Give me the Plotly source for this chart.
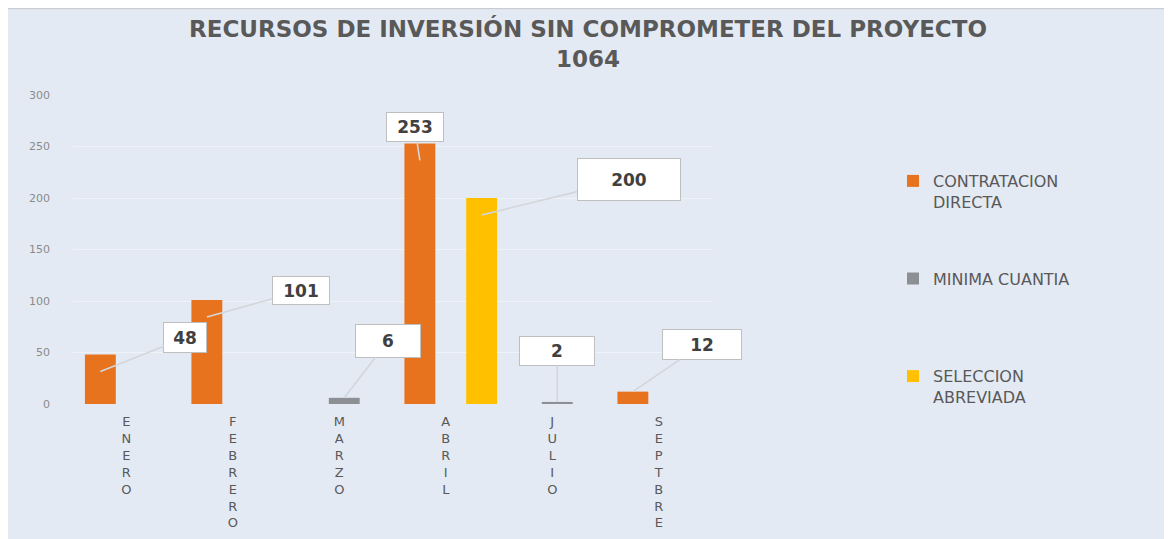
import plotly.graph_objects as go

# ---- data ----
months = ["ENERO", "FEBRERO", "MARZO", "ABRIL", "JULIO", "SEPTBRE"]
contratacion_directa = [48, 101, None, 253, None, 12]
minima_cuantia = [None, None, 6, None, 2, None]
seleccion_abreviada = [None, None, None, 200, None, None]
y_ticks = [0, 50, 100, 150, 200, 250, 300]

series = [
    ("CONTRATACION<br>DIRECTA", contratacion_directa, "#E8731E"),
    ("MINIMA CUANTIA<br>&nbsp;", minima_cuantia, "#8C8F94"),
    ("SELECCION<br>ABREVIADA", seleccion_abreviada, "#FFC000"),
]

W, H = 1172, 539
# plot area in figure pixels
PL, PR, PT, PB = 65, 704, 87, 396
PW, PH = PR - PL, PB - PT

BARGAP = 0.13
slot = (1 - BARGAP) / len(series)
DX = 5 / (PW / len(months))   # 3D depth shift of the bars to the right

fig = go.Figure()
for i, (name, vals, col) in enumerate(series):
    fig.add_trace(go.Bar(
        x=months, y=vals, name=name, legendgroup=str(i),
        width=slot, offset=(i - 1.5) * slot + DX,
        marker=dict(color=col, line=dict(width=0)),
        hoverinfo="x+y",
    ))

# label styles (box offset in px, shift of arrow tip, box size)
label_style = {
    (0, 0): dict(ax=85, ay=-34, ys=-17, w=40, h=27),
    (0, 1): dict(ax=94, ay=-26, ys=-17, w=54, h=25),
    (1, 2): dict(ax=44, ay=-57, ys=0, w=62, h=30),
    (0, 3): dict(ax=-5, ay=-33, ys=-17, w=54, h=26),
    (2, 3): dict(ax=147, ay=-36, ys=-17, w=100, h=39),
    (1, 4): dict(ax=0, ay=-51, ys=0, w=72, h=26),
    (0, 5): dict(ax=69, ay=-47, ys=0, w=76, h=27),
}

annotations = []
for si, (name, vals, col) in enumerate(series):
    for ci, v in enumerate(vals):
        if v is None:
            continue
        st = label_style[(si, ci)]
        annotations.append(dict(
            x=ci + (si - 1) * slot + DX, y=v, xref="x", yref="y",
            text=f"<b>{v}</b>", showarrow=True, arrowhead=0,
            arrowwidth=1.6, arrowcolor="#D3D6DB",
            ax=st["ax"], ay=st["ay"], axref="pixel", ayref="pixel",
            yshift=st["ys"], width=st["w"], height=st["h"],
            bgcolor="#FFFFFF", bordercolor="#BFBFBF", borderwidth=1,
            font=dict(family="DejaVu Sans", size=17, color="#404040"),
            align="center", valign="middle",
        ))

# heading above the panel (mostly cut off, as in the source)
annotations.append(dict(
    x=(580 - PL) / PW, y=PB / PH, xref="paper", yref="paper", yanchor="middle",
    yshift=7, text="RECURSOS SIN CONTRATAR POR MODALIDAD DE SELECCIÓN",
    showarrow=False, font=dict(family="DejaVu Sans", size=16, color="#2F5DA8"),
))

shapes = [dict(type="rect", xref="paper", yref="paper",
               x0=(-2 - PL) / PW, x1=(W + 10 - PL) / PW,
               y0=(PB - (H + 10)) / PH, y1=(PB - 0.5) / PH,
               fillcolor="#E4EAF4", line=dict(color="#C9CDD3", width=1.5),
               layer="below")]

fig.update_layout(
    width=W, height=H, autosize=False,
    margin=dict(l=PL, r=W - PR, t=PT, b=H - PB),
    paper_bgcolor="#FFFFFF", plot_bgcolor="rgba(0,0,0,0)",
    barmode="group", bargap=BARGAP, bargroupgap=0,
    title=dict(
        text="<b>RECURSOS DE INVERSIÓN SIN COMPROMETER DEL PROYECTO<br>1064</b>",
        x=580 / W, xref="container", xanchor="center",
        y=1 - 29 / H, yref="container", yanchor="top",
        font=dict(family="DejaVu Sans", size=23, color="#595959"),
    ),
    showlegend=True,
    legend=dict(
        x=(885 - PL) / PW, xanchor="left", y=(PB - 156) / PH, yanchor="top",
        bgcolor="rgba(0,0,0,0)", valign="top", tracegroupgap=53,
        font=dict(family="DejaVu Sans", size=16, color="#595959"),
        itemclick=False,
    ),
    annotations=annotations,
    shapes=shapes,
    font=dict(family="DejaVu Sans"),
)

fig.update_xaxes(
    type="category", range=[-0.5, len(months) - 0.5],
    tickmode="array", tickvals=months,
    ticktext=["<br>".join(list(m)) for m in months],
    tickfont=dict(family="DejaVu Sans", size=13, color="#595959"),
    showgrid=False, showline=False, ticks="", zeroline=False,
    ticklabelstandoff=8, fixedrange=True,
)
fig.update_yaxes(
    range=[0, 300], tickvals=y_ticks,
    tickfont=dict(family="DejaVu Sans", size=11, color="#8A8A8A"),
    showgrid=True, gridcolor="rgba(255,255,255,0.4)", gridwidth=1,
    zeroline=False, showline=False, ticks="", ticklabelstandoff=22,
    fixedrange=True,
)

fig.write_html("out.html")
